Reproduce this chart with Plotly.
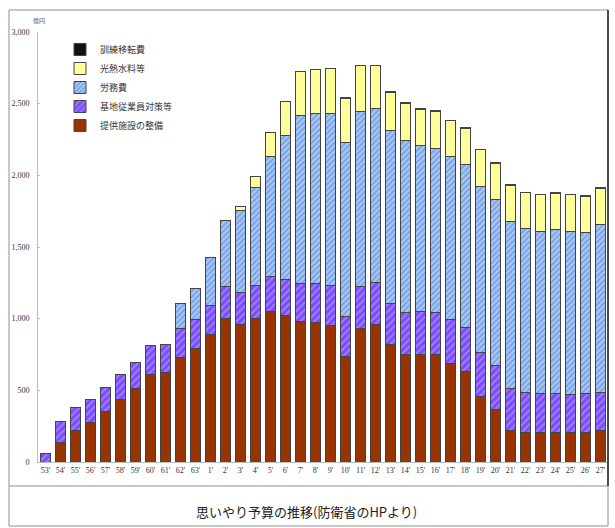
import plotly.graph_objects as go

categories = ["53'", "54'", "55'", "56'", "57'", "58'", "59'", "60'", "61'", "62'", "63'",
              "1'", "2'", "3'", "4'", "5'", "6'", "7'", "8'", "9'", "10'", "11'", "12'", "13'",
              "14'", "15'", "16'", "17'", "18'", "19'", "20'", "21'", "22'", "23'", "24'",
              "25'", "26'", "27'"]

facilities = [None, 134, 222, 276, 353, 439, 511, 611, 627, 732, 793,
              890, 1002, 958, 1000, 1051, 1023, 983, 976, 953, 739, 934, 960, 821,
              751, 751, 749, 690, 634, 457, 364, 220, 208, 206, 206, 208, 208, 220]
welfare = [61, 151, 156, 160, 167, 174, 184, 200, 196, 198, 204,
           205, 219, 228, 233, 244, 249, 261, 268, 280, 279, 287, 289, 284,
           291, 300, 297, 303, 303, 310, 310, 291, 280, 270, 270, 261, 268, 263]
labor = [None, None, None, None, None, None, None, None, None, 175, 215,
         335, 465, 570, 682, 838, 1008, 1176, 1188, 1199, 1208, 1227, 1217, 1210,
         1203, 1154, 1141, 1136, 1141, 1157, 1159, 1164, 1140, 1134, 1145, 1141, 1122, 1173]
utilities = [None, None, None, None, None, None, None, None, None, None, None,
             None, None, 28, 74, 163, 233, 302, 305, 310, 313, 317, 299, 264,
             259, 257, 261, 252, 252, 254, 252, 254, 250, 254, 252, 254, 254, 252]
training = [None, None, None, None, None, None, None, None, None, None, None,
            None, None, None, None, None, None, None, 4, 4, 4, 4, 4, 4,
            4, 4, 4, 4, 4, 4, 4, 4, 4, 4, 4, 4, 4, 4]

y_ticks = [0, 500, 1000, 1500, 2000, 2500, 3000]
y_ticktext = ["0", "500", "1,000", "1,500", "2,000", "2,500", "3,000"]

series = [
    ("提供施設の整備", facilities, dict(color="#993300")),
    ("基地従業員対策等", welfare, dict(color="#7a4cff",
        pattern=dict(shape="/", bgcolor="#7a4cff", fgcolor="#c9b8ff", size=5, solidity=0.35))),
    ("労務費", labor, dict(color="#9cc2f2",
        pattern=dict(shape="/", bgcolor="#a4c8f4", fgcolor="#3d5fcf", size=4, solidity=0.35))),
    ("光熱水料等", utilities, dict(color="#ffff99")),
    ("訓練移転費", training, dict(color="#111111")),
]

fig = go.Figure()
for name, vals, mk in series:
    mk = dict(mk)
    mk["line"] = dict(color="#444444", width=1)
    fig.add_trace(go.Bar(x=categories, y=vals, name=name, marker=mk))

W, H = 615, 528
L, R, T, B = 38, 7, 32, 66
pw, ph = W - L - R, H - T - B

def px(x):
    return (x - L) / pw

def py(y):
    return (H - B - y) / ph

gray = "#b5b5b5"
shapes = [
    dict(type="line", xref="paper", yref="paper", x0=px(9), x1=px(9), y0=py(10), y1=py(526), line=dict(color=gray, width=1.5)),
    dict(type="line", xref="paper", yref="paper", x0=px(9), x1=px(608), y0=py(10), y1=py(10), line=dict(color=gray, width=1.5)),
    dict(type="line", xref="paper", yref="paper", x0=px(9), x1=px(608), y0=py(486), y1=py(486), line=dict(color=gray, width=1.5)),
    dict(type="line", xref="paper", yref="paper", x0=px(9), x1=px(608), y0=py(526), y1=py(526), line=dict(color=gray, width=1.5)),
    dict(type="line", xref="paper", yref="paper", x0=px(608), x1=px(608), y0=py(10), y1=py(486), line=dict(color="#111111", width=1.5)),
    dict(type="line", xref="paper", yref="paper", x0=px(608), x1=px(608), y0=py(486), y1=py(526), line=dict(color=gray, width=1.5)),
]

fig.update_layout(
    width=W, height=H,
    margin=dict(l=L, r=R, t=T, b=B),
    paper_bgcolor="white", plot_bgcolor="white",
    barmode="stack", bargap=0.36,
    font=dict(family="Liberation Serif", size=8, color="#333333"),
    showlegend=True,
    legend=dict(x=px(60), y=py(35), xanchor="left", yanchor="top",
                traceorder="reversed", bgcolor="rgba(0,0,0,0)",
                font=dict(family="Noto Sans CJK JP", size=9, color="#333333"),
                itemwidth=30, tracegroupgap=0),
    xaxis=dict(type="category", range=[-0.5, 37.5], showline=True, linecolor="#bbbbbb",
               linewidth=1, ticks="", tickfont=dict(size=8, family="Liberation Serif"),
               showgrid=False, zeroline=False),
    yaxis=dict(range=[0, 3000], tickvals=y_ticks, ticktext=y_ticktext, showline=True,
               linecolor="#bbbbbb", linewidth=1, ticks="inside", ticklen=2, tickcolor="#bbbbbb",
               showgrid=False, zeroline=False, tickfont=dict(size=8, family="Liberation Serif"),
               ticklabelstandoff=6),
    shapes=shapes,
    annotations=[
        dict(text="億円", xref="paper", yref="paper", x=px(39), y=py(21), showarrow=False,
             font=dict(size=6, family="Noto Sans CJK JP", color="#555555"), xanchor="center", yanchor="middle"),
        dict(text="思いやり予算の推移(防衛省のHPより)", xref="paper", yref="paper", x=px(306), y=py(511),
             showarrow=False, font=dict(size=13, family="Noto Sans CJK JP", color="#222222"),
             xanchor="center", yanchor="middle"),
    ],
)

fig.write_html("out.html", config={"displayModeBar": False},
               post_script="document.body.style.margin='0';document.body.style.overflow='hidden';")
